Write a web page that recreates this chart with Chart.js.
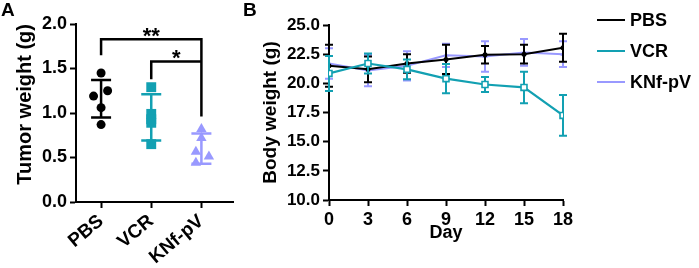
<!DOCTYPE html>
<html><head><meta charset="utf-8">
<script src="https://cdn.jsdelivr.net/npm/chart.js@4"></script>
<style>
html,body{margin:0;padding:0;background:#fff;}
#wrap{position:relative;width:699px;height:268px;overflow:hidden;background:#fff;}
canvas{position:absolute;top:0;}
#cA{left:0;} #cB{left:240px;}
</style></head><body>
<div id="wrap"><canvas id="cA" width="240" height="268"></canvas><canvas id="cB" width="459" height="268"></canvas></div>
<script>
// ---------- Panel A data ----------
const groups = ['PBS', 'VCR', 'KNf-pV'];
const tumorPBS = [1.45, 1.25, 1.19, 1.06, 0.87];
const tumorVCR = [1.29, 0.99, 0.93, 0.89, 0.65];
const tumorKNf = [0.82, 0.72, 0.565, 0.51, 0.44];
const tumorMean = [1.16, 0.95, 0.60];
const tumorSD = [0.21, 0.26, 0.17];
const jitterPBS = [0, 0.13, -0.15, 0, 0];
const jitterVCR = [0, 0, 0, 0, 0];
const jitterKNf = [0, 0, -0.11, 0.15, -0.11];
const tumorTicks = [0, 0.5, 1.0, 1.5, 2.0];
const sigLabels = ['**', '*'];
const sigPairs = [[0, 2], [1, 2]];
const sigLevels = [1.83, 1.58];
const sigLegEnds = [[1.65, 0.96], [1.38, 1.58]];

// ---------- Panel B data ----------
const days = [0, 3, 6, 9, 12, 15, 18];
const bwPBS = [21.5, 21.2, 21.7, 22.05, 22.45, 22.5, 23.05];
const bwPBSsd = [1.8, 1.1, 0.8, 1.25, 0.75, 0.8, 1.2];
const bwVCR = [20.85, 21.7, 21.2, 20.4, 19.9, 19.65, 17.25];
const bwVCRsd = [1.5, 0.85, 0.85, 1.25, 0.65, 1.35, 1.75];
const bwKNf = [21.7, 21.1, 21.5, 22.4, 22.3, 22.65, 22.5];
const bwKNfsd = [1.3, 1.35, 1.25, 1.0, 1.3, 1.15, 1.1];
const bwTicks = [10, 12.5, 15, 17.5, 20, 22.5, 25];
const dayTicks = [0, 3, 6, 9, 12, 15, 18];

const BLACK = '#000000', TEAL = '#12a0b2', PURPLE = '#9999ff';
const FONT = "'Liberation Sans', Arial, Helvetica, sans-serif";
Chart.defaults.font.family = FONT;
Chart.defaults.color = '#000';

function pts(vals, jit, gi) { return vals.map((v, i) => ({x: gi + jit[i], y: v})); }

const axisGrid = {display: true, drawOnChartArea: false, tickLength: 6, tickWidth: 2, color: '#000'};
const axisBorder = {display: true, color: '#000', width: 2};

// ---- Panel A plugin: error bars, brackets, panel letter
const panelAPlugin = {
  id: 'panelA',
  beforeDatasetsDraw(chart) {
    const {ctx, scales: {x, y}} = chart;
    const cols = [BLACK, TEAL, PURPLE];
    ctx.save();
    ctx.lineWidth = 2.5;
    groups.forEach((g, i) => {
      const cx = x.getPixelForValue(i);
      const top = y.getPixelForValue(tumorMean[i] + tumorSD[i]);
      const bot = y.getPixelForValue(tumorMean[i] - tumorSD[i]);
      ctx.strokeStyle = cols[i];
      ctx.beginPath();
      ctx.moveTo(cx, top); ctx.lineTo(cx, bot);
      ctx.moveTo(cx - 10, top); ctx.lineTo(cx + 10, top);
      ctx.moveTo(cx - 10, bot); ctx.lineTo(cx + 10, bot);
      ctx.stroke();
    });
    ctx.restore();
  },
  afterDraw(chart) {
    const {ctx, scales: {x, y}} = chart;
    ctx.save();
    ctx.strokeStyle = '#000'; ctx.fillStyle = '#000';
    ctx.lineWidth = 2.5;
    sigPairs.forEach((p, k) => {
      const x1 = x.getPixelForValue(p[0]), x2 = x.getPixelForValue(p[1]);
      const yl = y.getPixelForValue(sigLevels[k]);
      const y1 = y.getPixelForValue(sigLegEnds[k][0]);
      const y2 = y.getPixelForValue(sigLegEnds[k][1]);
      ctx.beginPath();
      ctx.moveTo(x1, y1); ctx.lineTo(x1, yl); ctx.lineTo(x2, yl); ctx.lineTo(x2, y2);
      ctx.stroke();
      ctx.font = 'bold 22px ' + FONT;
      ctx.textAlign = 'center'; ctx.textBaseline = 'alphabetic';
      ctx.fillText(sigLabels[k], (x1 + x2) / 2, yl + 4);
    });
    ctx.font = 'bold 19px ' + FONT;
    ctx.textAlign = 'left'; ctx.textBaseline = 'top';
    ctx.fillText('A', 1, 1);
    ctx.restore();
  }
};

new Chart(document.getElementById('cA'), {
  type: 'scatter',
  data: {
    datasets: [
      {label: groups[0], data: pts(tumorPBS, jitterPBS, 0), pointStyle: 'circle', pointRadius: 4.5, backgroundColor: BLACK, borderColor: BLACK, borderWidth: 0},
      {label: groups[1], data: pts(tumorVCR, jitterVCR, 1), pointStyle: 'rect', pointRadius: 7, backgroundColor: TEAL, borderColor: TEAL, borderWidth: 0},
      {label: groups[2], data: pts(tumorKNf, jitterKNf, 2), pointStyle: 'triangle', pointRadius: 6, backgroundColor: PURPLE, borderColor: PURPLE, borderWidth: 0}
    ]
  },
  options: {
    responsive: false, animation: false,
    layout: {padding: {top: 24, right: 0, bottom: 0, left: 0}},
    plugins: {legend: {display: false}, tooltip: {enabled: false}},
    scales: {
      x: {
        type: 'linear', min: -0.5, max: 2.63,
        afterBuildTicks: s => { s.ticks = groups.map((g, i) => ({value: i})); },
        ticks: {callback: v => groups[v], minRotation: 40, maxRotation: 40, autoSkip: false, padding: 2, font: {size: 19, weight: 'bold'}},
        grid: axisGrid, border: axisBorder,
        afterFit: s => { s.height = 66; }
      },
      y: {
        min: 0, max: 2,
        afterBuildTicks: s => { s.ticks = tumorTicks.map(v => ({value: v})); },
        ticks: {callback: v => v.toFixed(1), padding: 3, font: {size: 18, weight: 'bold'}},
        grid: axisGrid, border: axisBorder,
        title: {display: true, text: 'Tumor weight (g)', align: 'end', font: {size: 20, weight: 'bold'}, padding: {top: 13, bottom: 0}},
        afterFit: s => { s.width = 76; }
      }
    }
  },
  plugins: [panelAPlugin]
});

// ---- Panel B
const errorPlugin = {
  id: 'errB',
  beforeDatasetDraw(chart, args) {
    const ds = chart.data.datasets[args.index];
    const {ctx, scales: {x, y}} = chart;
    ctx.save();
    ctx.strokeStyle = ds.borderColor;
    ctx.lineWidth = 2;
    ds.data.forEach((p, i) => {
      const cx = x.getPixelForValue(p.x);
      const t = y.getPixelForValue(p.y + ds.sd[i]);
      const b = y.getPixelForValue(p.y - ds.sd[i]);
      ctx.beginPath();
      ctx.moveTo(cx, t); ctx.lineTo(cx, b);
      ctx.moveTo(cx - 4, t); ctx.lineTo(cx + 4, t);
      ctx.moveTo(cx - 4, b); ctx.lineTo(cx + 4, b);
      ctx.stroke();
    });
    ctx.restore();
  },
  afterDraw(chart) {
    const {ctx, chartArea} = chart;
    ctx.save();
    const x0 = chartArea.right + 34;
    chart.data.datasets.forEach((ds, i) => {
      const yy = chartArea.top - 5 + i * 31;
      ctx.strokeStyle = ds.borderColor; ctx.lineWidth = 2;
      ctx.beginPath(); ctx.moveTo(x0, yy); ctx.lineTo(x0 + 28, yy); ctx.stroke();
      ctx.fillStyle = '#000';
      ctx.font = 'bold 18px ' + FONT;
      ctx.textAlign = 'left'; ctx.textBaseline = 'middle';
      ctx.fillText(ds.label, x0 + 33, yy + 1);
    });
    ctx.font = 'bold 19px ' + FONT;
    ctx.textAlign = 'left'; ctx.textBaseline = 'top';
    ctx.fillText('B', 3, 1);
    ctx.restore();
  }
};

function series(vals) { return vals.map((v, i) => ({x: days[i], y: v})); }

new Chart(document.getElementById('cB'), {
  type: 'line',
  data: {
    datasets: [
      {label: 'PBS', data: series(bwPBS), sd: bwPBSsd, order: 2, borderColor: BLACK, backgroundColor: BLACK, borderWidth: 2, pointStyle: 'circle', pointRadius: 2.5, pointBorderWidth: 0, fill: false, tension: 0},
      {label: 'VCR', data: series(bwVCR), sd: bwVCRsd, order: 1, borderColor: TEAL, backgroundColor: '#ffffff', borderWidth: 2.2, pointStyle: 'rect', pointRadius: 4.2, pointBorderWidth: 1.6, pointBorderColor: TEAL, pointBackgroundColor: '#ffffff', fill: false, tension: 0},
      {label: 'KNf-pV', data: series(bwKNf), sd: bwKNfsd, order: 3, borderColor: PURPLE, backgroundColor: PURPLE, borderWidth: 2, pointStyle: 'triangle', pointRadius: 3, pointBorderWidth: 0, fill: false, tension: 0}
    ]
  },
  options: {
    responsive: false, animation: false,
    layout: {padding: {top: 25, right: 136, bottom: 0, left: 0}},
    plugins: {legend: {display: false}, tooltip: {enabled: false}},
    scales: {
      x: {
        type: 'linear', min: 0, max: 18,
        afterBuildTicks: s => { s.ticks = dayTicks.map(v => ({value: v})); },
        ticks: {padding: 3, font: {size: 18, weight: 'bold'}},
        grid: axisGrid, border: axisBorder,
        title: {display: true, text: 'Day', font: {size: 18, weight: 'bold'}, padding: {top: 0, bottom: 24}},
        afterFit: s => { s.height = 68; }
      },
      y: {
        min: 10, max: 25,
        afterBuildTicks: s => { s.ticks = bwTicks.map(v => ({value: v})); },
        ticks: {callback: v => v.toFixed(1), padding: 3, font: {size: 17, weight: 'bold'}},
        grid: axisGrid, border: axisBorder,
        title: {display: true, text: 'Body weight (g)', font: {size: 19, weight: 'bold'}, padding: {top: 19, bottom: 0}},
        afterFit: s => { s.width = 89; }
      }
    }
  },
  plugins: [errorPlugin]
});
</script>
</body></html>
